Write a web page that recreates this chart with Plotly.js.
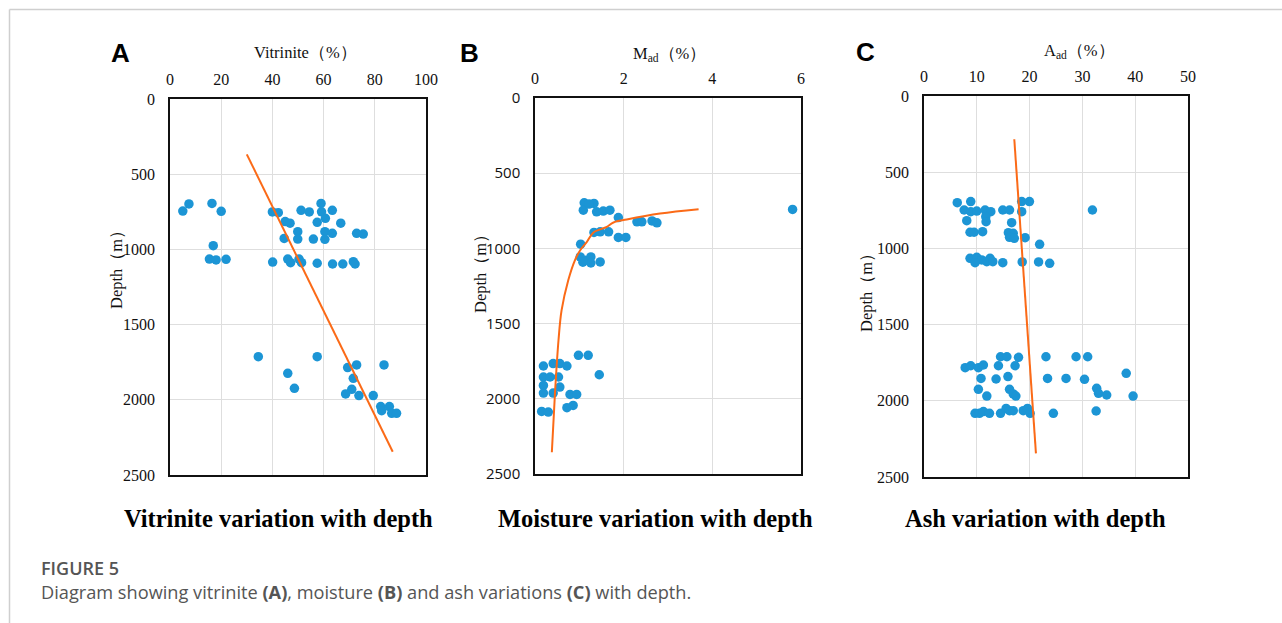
<!DOCTYPE html>
<html>
<head>
<meta charset="utf-8">
<script src="https://cdn.plot.ly/plotly-3.0.1.min.js"></script>
<style>
  html, body { margin: 0; padding: 0; background: #fff; }
  #chart { width: 1282px; height: 623px; }
</style>
</head>
<body>
<div id="chart"></div>
<script>
// ---------------- DATA ----------------
// Panel A: vitrinite (%) vs depth (m)
const vitrinite = [5,7.4,16.4,20,40,42.3,51.2,54.4,59,59.2,63.4,60.7,57.5,66.7,45,46.9,49.9,49.9,44.6,56,60.5,63.4,60.5,72.9,75.5,16.9,15.4,18,21.9,40.1,46,47.1,50.4,51.4,57.5,63.5,67.5,71.6,72.3,34.5,57.5,72.9,69.4,83.6,46,71.6,48.6,71,68.6,73.8,79.4,82.3,82.7,85.7,86.6,88.5];
const depthA = [745,698,694,747,751,756,740,751,694,750,740,793,820,826,815,826,882,931,927,931,882,893,933,893,898,975,1064,1070,1066,1084,1064,1088,1064,1088,1092,1097,1097,1082,1097,1713,1713,1768,1786,1768,1824,1857,1924,1930,1961,1972,1972,2045,2072,2045,2090,2090];
const trendAx = [30, 87];
const trendAy = [368, 2345];

// Panel B: moisture Mad (%) vs depth (m)
const moisture = [1.11,1.33,1.09,1.39,1.54,1.69,1.88,2.30,2.41,2.64,2.75,5.81,1.22,1.33,1.47,1.66,1.88,2.05,1.03,1.02,1.13,1.26,1.26,1.47,1.08,0.98,1.20,0.19,0.41,0.56,0.72,0.19,0.34,0.53,1.45,0.19,0.56,0.19,0.41,0.79,0.94,0.15,0.30,0.72,0.86];
const depthB = [697,701,746,757,752,746,795,823,823,817,830,741,705,894,890,890,927,927,972,1057,1079,1057,1097,1090,1092,1711,1711,1782,1766,1766,1782,1855,1855,1855,1840,1911,1922,1962,1962,1971,1971,2084,2088,2059,2044];
const trendBx = [3.69,2.82,2.07,1.77,1.62,1.32,1.17,1.02,0.90,0.75,0.60,0.53,0.45,0.38];
const trendBy = [739,768,808,828,857,894,957,1012,1079,1212,1411,1611,1966,2355];

// Panel C: ash Aad (%) vs depth (m)
const ash = [6.3,8.85,7.6,8.85,9.99,11.57,12.65,11.7,11.76,8.1,14.92,16.2,16.6,18.5,19.97,18.5,31.9,8.72,9.48,11.1,15.98,16.9,16.2,17.1,19.15,21.9,8.72,9.99,10.94,11.89,12.51,13.03,9.67,14.92,18.6,21.7,23.8,14.5,15.7,17.9,23.1,28.8,31.0,7.8,8.85,10.3,11.25,14.1,17.25,38.3,10.8,13.65,15.9,23.4,26.9,30.4,32.7,33.05,34.6,10.3,16.2,11.9,16.9,17.4,39.6,9.67,10.5,11.25,12.4,14.5,15.55,16.2,16.9,18.8,19.6,20.1,24.5,32.6];
const depthC = [700,693,748,759,755,748,759,792,825,818,748,748,831,693,693,759,748,894,894,890,897,901,927,934,930,973,1065,1058,1076,1087,1065,1087,1094,1094,1089,1089,1098,1711,1711,1715,1711,1711,1711,1783,1770,1783,1765,1770,1770,1820,1853,1857,1841,1853,1853,1859,1918,1951,1962,1925,1925,1969,1955,1969,1969,2082,2082,2071,2082,2082,2050,2065,2065,2065,2050,2082,2082,2067];
const trendCx = [17.1, 21.2];
const trendCy = [284, 2345];

// Labels
const panelLetters = ["A", "B", "C"];
const xTitles = ["Vitrinite（%）", "M<sub>ad</sub>（%）", "A<sub>ad</sub>（%）"];
const yTitle = "Depth（m）";
const bottomTitles = ["Vitrinite variation with depth", "Moisture variation with depth", "Ash variation with depth"];
const figLabel = "FIGURE 5";
const caption = "Diagram showing vitrinite <b>(A)</b>, moisture <b>(B)</b> and ash variations <b>(C)</b> with depth.";

// ---------------- STYLE / LAYOUT ----------------
const W = 1282, H = 623;
const px = x => x / W;
const py = y => 1 - y / H;
const SERIF = "Liberation Serif, Times New Roman, serif";
const SANS = "Liberation Sans, Arial, sans-serif";
const BLUE = "#1c95d5";
const ORANGE = "#fb6a17";

const panels = [
  {l:170, r:426, t:99, b:475, xr:[0,100], dx:20, ytickfont:SERIF, yts:16},
  {l:535, r:801, t:98, b:474, xr:[0,6], dx:2, ytickfont:"Open Sans, sans-serif", yts:15},
  {l:924, r:1188, t:96, b:477, xr:[0,50], dx:10, ytickfont:SERIF, yts:16}
];

function scatter(x, y, i) {
  return {x, y, type:"scatter", mode:"markers", xaxis: i ? "x"+(i+1) : "x", yaxis: i ? "y"+(i+1) : "y",
    marker:{size:9.5, color:BLUE}, hoverinfo:"x+y", showlegend:false};
}
function trend(x, y, i, spline) {
  return {x, y, type:"scatter", mode:"lines", xaxis: i ? "x"+(i+1) : "x", yaxis: i ? "y"+(i+1) : "y",
    line:{color:ORANGE, width:2, shape: spline ? "spline" : "linear"}, hoverinfo:"skip", showlegend:false};
}

const data = [
  scatter(vitrinite, depthA, 0), trend(trendAx, trendAy, 0, false),
  scatter(moisture, depthB, 1), trend(trendBx, trendBy, 1, true),
  scatter(ash, depthC, 2), trend(trendCx, trendCy, 2, false)
];

const layout = {
  width: W, height: H,
  margin: {l:0, r:0, t:0, b:0},
  paper_bgcolor: "#fff", plot_bgcolor: "#fff",
  showlegend: false,
  annotations: [], shapes: []
};

panels.forEach((p, i) => {
  const xk = i ? "xaxis"+(i+1) : "xaxis";
  const yk = i ? "yaxis"+(i+1) : "yaxis";
  const xa = i ? "x"+(i+1) : "x";
  const ya = i ? "y"+(i+1) : "y";
  layout[xk] = {
    domain:[px(p.l), px(p.r)], anchor: ya, side:"top", range:p.xr, dtick:p.dx, tick0:0,
    showgrid:true, gridcolor:"#dedede", gridwidth:1, zeroline:false,
    showline:true, mirror:true, linecolor:"#111", linewidth:1.5, ticks:"",
    tickfont:{family:SERIF, size:16, color:"#111"}, ticklabelstandoff: 6, fixedrange:true
  };
  layout[yk] = {
    domain:[py(p.b), py(p.t)], anchor: xa, range:[2500,0], dtick:500, tick0:0,
    showgrid:true, gridcolor:"#dedede", gridwidth:1, zeroline:false,
    showline:true, mirror:true, linecolor:"#111", linewidth:1.5, ticks:"",
    tickfont:{family:p.ytickfont, size:p.yts, color:"#111"}, ticklabelstandoff: 10, fixedrange:true
  };
});

// panel letters
[[120,53],[469,53],[865,52]].forEach((pos, i) => {
  layout.annotations.push({text:"<b>"+panelLetters[i]+"</b>", xref:"paper", yref:"paper", x:px(pos[0]), y:py(pos[1]),
    xanchor:"center", yanchor:"middle", showarrow:false, font:{family:SANS, size:26, color:"#000"}});
});
// x titles
[[305,52],[669,54],[1079,51]].forEach((pos, i) => {
  layout.annotations.push({text:xTitles[i], xref:"paper", yref:"paper", x:px(pos[0]), y:py(pos[1]),
    xanchor:"center", yanchor:"middle", showarrow:false, font:{family:SERIF, size:16.5, color:"#111"}});
});
// y titles
[[117,266],[480,270],[866,289]].forEach((pos) => {
  layout.annotations.push({text:yTitle, xref:"paper", yref:"paper", x:px(pos[0]), y:py(pos[1]),
    xanchor:"center", yanchor:"middle", textangle:-90, showarrow:false, font:{family:SERIF, size:16.5, color:"#111"}});
});
// bottom titles
[[278,518],[655,518],[1035,518]].forEach((pos, i) => {
  layout.annotations.push({text:"<b>"+bottomTitles[i]+"</b>", xref:"paper", yref:"paper", x:px(pos[0]), y:py(pos[1]),
    xanchor:"center", yanchor:"middle", showarrow:false, font:{family:SERIF, size:24.5, color:"#000"}});
});
// caption
layout.annotations.push({text:figLabel, xref:"paper", yref:"paper", x:px(39), y:py(568),
  xanchor:"left", yanchor:"middle", showarrow:false, font:{family:"Open Sans, sans-serif", size:18, color:"#555", weight:600}});
layout.annotations.push({text:caption, xref:"paper", yref:"paper", x:px(39), y:py(592),
  xanchor:"left", yanchor:"middle", showarrow:false, font:{family:"Open Sans, sans-serif", size:18.2, color:"#555"}});

// figure frame lines (top and left)
layout.shapes.push({type:"line", xref:"paper", yref:"paper", x0:px(9.5), x1:1, y0:py(9.5), y1:py(9.5), line:{color:"#cfcfcf", width:1.5}});
layout.shapes.push({type:"line", xref:"paper", yref:"paper", x0:px(9.5), x1:px(9.5), y0:py(9.5), y1:0, line:{color:"#cfcfcf", width:1.5}});

Plotly.newPlot("chart", data, layout, {displayModeBar:false});
</script>
</body>
</html>
